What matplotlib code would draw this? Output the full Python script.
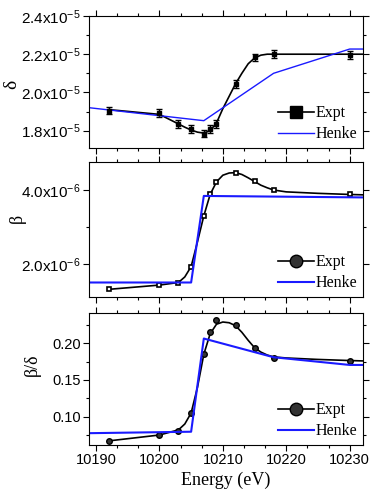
import matplotlib
matplotlib.use('Agg')
import matplotlib.pyplot as plt
from matplotlib.ticker import MultipleLocator, AutoMinorLocator, FuncFormatter
from matplotlib.lines import Line2D

plt.rcParams['font.family'] = 'Liberation Sans'
plt.rcParams['mathtext.default'] = 'regular'

# measured points (eV)
energy = [10192, 10200, 10203, 10205, 10207, 10208, 10209, 10212, 10215, 10218, 10230]
delta = [1.905, 1.891, 1.833, 1.807, 1.784, 1.809, 1.833, 2.043, 2.183, 2.200, 2.195]  # x1e-5
delta_err = [0.02] * 11
beta = [1.315, 1.432, 1.495, 1.928, 3.297, 3.890, 4.225, 4.468, 4.234, 4.000, 3.883]  # x1e-6
ratio = [0.0673, 0.0750, 0.0805, 0.1045, 0.1850, 0.2150, 0.2318, 0.2250, 0.1940, 0.1805, 0.1764]

# smooth guide curves
fit_e = [10192, 10200, 10203, 10204, 10205, 10206, 10207, 10208, 10209, 10210, 10211, 10212,
         10213, 10214, 10215, 10216, 10217, 10218, 10220, 10225, 10230, 10232]
delta_fit = [1.91, 1.885, 1.835, 1.818, 1.803, 1.792, 1.787, 1.800, 1.840, 1.915, 1.980, 2.045,
             2.100, 2.150, 2.180, 2.195, 2.200, 2.200, 2.200, 2.200, 2.200, 2.200]
beta_fit = [1.315, 1.43, 1.50, 1.65, 1.93, 2.60, 3.30, 3.88, 4.22, 4.40, 4.46, 4.47,
            4.42, 4.33, 4.23, 4.13, 4.06, 4.00, 3.95, 3.91, 3.88, 3.87]
ratio_fit = [0.067, 0.075, 0.082, 0.090, 0.105, 0.140, 0.185, 0.213, 0.226, 0.229, 0.228, 0.224,
             0.215, 0.204, 0.194, 0.188, 0.184, 0.1815, 0.180, 0.178, 0.1765, 0.176]

# Henke tabulated curves
henke_d_e = [10188.9, 10207, 10218, 10230, 10232.1]
henke_delta = [1.92, 1.852, 2.10, 2.227, 2.227]
henke_b_e = [10188.9, 10205, 10207, 10232.1]
henke_beta = [1.50, 1.50, 3.84, 3.80]
henke_r_e = [10188.9, 10205, 10207, 10218, 10230, 10232.1]
henke_ratio = [0.0775, 0.0795, 0.2065, 0.181, 0.1705, 0.1705]

blue = '#1a1aff'
xlim = (10188.9, 10232.1)
serif = 'Liberation Serif'

fig = plt.figure(figsize=(3.74, 4.95), dpi=100)
ax1 = fig.add_axes([0.238, 0.701, 0.7326, 0.2667])
ax2 = fig.add_axes([0.238, 0.400, 0.7326, 0.2727])
ax3 = fig.add_axes([0.238, 0.101, 0.7326, 0.2667])

# delta
ax1.plot(fit_e, [v * 1e-5 for v in delta_fit], color='black', lw=1.2)
ax1.errorbar(energy, [v * 1e-5 for v in delta], yerr=[v * 1e-5 for v in delta_err],
             fmt='s', color='black', ms=3.5, capsize=2, elinewidth=1, capthick=1)
ax1.plot(henke_d_e, [v * 1e-5 for v in henke_delta], color=blue, lw=1)
ax1.set_ylim(1.709e-5, 2.4e-5)
ax1.yaxis.set_major_locator(MultipleLocator(0.2e-5))
ax1.yaxis.set_major_formatter(FuncFormatter(lambda v, p: '%.1fx10$^{-5}$' % (v / 1e-5)))
ax1.set_ylabel('δ', family=serif, fontsize=14)
ax1.yaxis.set_label_coords(-0.252, 0.48)
h1 = [Line2D([], [], color='black', marker='s', ms=8, lw=1.2),
      Line2D([], [], color=blue, lw=1)]

# beta
ax2.plot(fit_e, [v * 1e-6 for v in beta_fit], color='black', lw=1.2)
ax2.plot(energy, [v * 1e-6 for v in beta], 's', mfc='white', mec='black', mew=1.2, ms=3.5)
ax2.plot(henke_b_e, [v * 1e-6 for v in henke_beta], color=blue, lw=1.5)
ax2.set_ylim(1.108e-6, 4.757e-6)
ax2.yaxis.set_major_locator(MultipleLocator(2e-6))
ax2.yaxis.set_major_formatter(FuncFormatter(lambda v, p: '%.1fx10$^{-6}$' % (v / 1e-6)))
ax2.set_ylabel('β', family=serif, fontsize=13)
ax2.yaxis.set_label_coords(-0.23, 0.585)
h2 = [Line2D([], [], color='black', marker='o', ms=9, mfc='#333333', mec='black', lw=1.2),
      Line2D([], [], color=blue, lw=1.5)]

# beta / delta
ax3.plot(fit_e, ratio_fit, color='black', lw=1.2)
ax3.plot(energy, ratio, 'o', mfc='#333333', mec='black', ms=4)
ax3.plot(henke_r_e, henke_ratio, color=blue, lw=1.5)
ax3.set_ylim(0.0614, 0.2413)
ax3.yaxis.set_major_locator(MultipleLocator(0.05))
ax3.yaxis.set_major_formatter(FuncFormatter(lambda v, p: '%.2f' % v))
ax3.set_ylabel('β/δ', family=serif, fontsize=13)
ax3.yaxis.set_label_coords(-0.175, 0.606)
ax3.set_xlabel('Energy (eV)', family=serif, fontsize=13, labelpad=3)

for ax, h in [(ax1, h1), (ax2, h2), (ax3, h2)]:
    ax.set_xlim(*xlim)
    ax.xaxis.set_major_locator(MultipleLocator(10))
    ax.xaxis.set_minor_locator(AutoMinorLocator(3))
    ax.yaxis.set_minor_locator(AutoMinorLocator(2))
    ax.tick_params(which='both', direction='out', top=True, right=True, labelsize=10.5, pad=2)
    ax.tick_params(which='major', length=4, width=0.8)
    ax.tick_params(which='minor', length=2.5, width=0.8)
    ax.legend(h, ['Expt', 'Henke'], loc='lower right', frameon=False,
              bbox_to_anchor=(1.018, -0.04), prop={'family': serif, 'size': 11.5},
              handlelength=2.2, handletextpad=0.1, borderaxespad=0.3, labelspacing=0.3)
    for s in ax.spines.values():
        s.set_linewidth(0.8)

ax1.tick_params(axis='y', labelsize=11)
ax2.tick_params(axis='y', labelsize=11)
ax1.tick_params(labelbottom=False)
ax2.tick_params(labelbottom=False)

fig.savefig('out.png', dpi=100)
